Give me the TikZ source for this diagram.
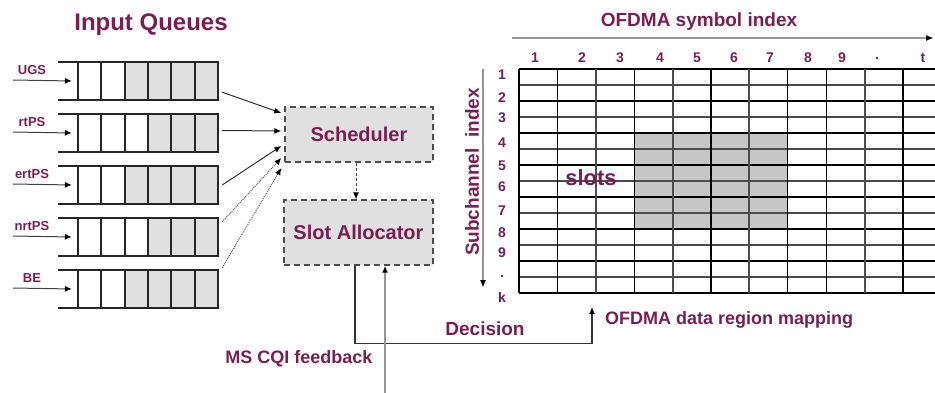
\documentclass[tikz,border=0pt]{standalone}
\usepackage{fontspec}
\setmainfont{Liberation Sans}
\usetikzlibrary{arrows.meta}
\definecolor{txt}{RGB}{122,30,82}
\definecolor{cellgray}{RGB}{224,224,224}
\definecolor{slotgray}{RGB}{198,198,198}
\definecolor{lgray}{RGB}{150,150,150}
\newcommand\fsz[1]{\fontsize{#1}{#1}\selectfont}
\begin{document}
\begin{tikzpicture}[x=1pt,y=-1pt,
  lbl/.style={text=txt,font=\bfseries\fsz{#1},inner sep=0pt},
  lbl/.default=18,
  qbox/.style={minimum width=162pt,minimum height=38pt,inner sep=0pt},
  qline/.style={line width=1.7pt,draw=black!85},
  tip/.style={-{Latex[length=7pt,width=6pt,color=black]}},
  inarr/.style={tip,line width=1pt,draw=black!75},
  sarr/.style={tip,line width=1pt,draw=black!80},
  darr/.style={tip,line width=1pt,draw=black!65,densely dotted},
  procbox/.style={draw=black!70,line width=1.4pt,dash pattern=on 6pt off 4pt,fill=cellgray,inner sep=0pt},
  gthin/.style={line width=1.3pt,draw=black},
  gthick/.style={line width=2pt,draw=black!70},
  axis/.style={line width=1.6pt,draw=lgray,-{Latex[length=8pt,width=6pt,color=black]}}
]
\useasboundingbox (0,0) rectangle (935,393);

% title
\node[lbl=24] (title) at (151,25) {Input Queues};

% queues
\foreach \nm/\qy/\g in {UGS/62/3, rtPS/114/4, ertPS/166/3, nrtPS/218/4, BE/270/3} {
  \node[qbox] (q\nm) at (139,\qy+19) {};
  \foreach \i in {\g,...,6}
    \fill[cellgray] ({78+(\i-1)*23.333},\qy) rectangle ({78+\i*23.333},\qy+38);
  \draw[qline] (58,\qy) -- (219,\qy);
  \draw[qline] (58,\qy+38) -- (219,\qy+38);
  \foreach \i in {0,...,6}
    \draw[qline] ({78+\i*23.333},\qy) -- ({78+\i*23.333},\qy+38);
  \coordinate (in\nm) at (13,\qy+18);
  \draw[inarr] (in\nm) -- ([xshift=14pt]q\nm.west);
  \node[lbl=13] (l\nm) at (32,\qy+8) {\nm};
}

% scheduler and slot allocator
\node[procbox,minimum width=148pt,minimum height=55pt] (sch) at (359,134.5)
  {\textcolor{txt}{\bfseries\fsz{20}Scheduler}};
\node[procbox,minimum width=149pt,minimum height=65pt] (slot) at (358.5,232.5)
  {\textcolor{txt}{\bfseries\fsz{20}Slot Allocator}};

% queue -> scheduler
\draw[sarr] ([shift={(2,-8)}]qUGS.south east) -- ([shift={(-3,-21.5)}]sch.west);
\draw[sarr] ([shift={(2,-2.5)}]qrtPS.east) -- ([shift={(-3,-3.5)}]sch.west);
\draw[sarr] ([shift={(2,0)}]qertPS.east) -- ([shift={(-3,11.5)}]sch.west);
\draw[darr] ([shift={(2,4)}]qnrtPS.north east) -- ([shift={(-3,23.5)}]sch.west);
\draw[darr] ([shift={(2,-2)}]qBE.north east) -- ([shift={(-3,33.5)}]sch.west);

% scheduler -> slot allocator
\draw[tip,line width=1pt,draw=black!70,densely dashed] ([xshift=-3pt]sch.south) -- ([xshift=-2.5pt]slot.north);

% grid
\fill[slotgray] (634.2,133) rectangle (787.8,229);
\foreach \j in {0,...,14} {
  \ifodd\j
    \draw[gthick] (519,{69+\j*16}) -- (935,{69+\j*16});
  \else
    \draw[gthin] (519,{69+\j*16}) -- (935,{69+\j*16});
  \fi
}
\foreach \i/\s in {0/gthin,1/gthin,2/gthick,3/gthin,4/gthick,5/gthin,6/gthick,7/gthin,8/gthin,9/gthick,10/gthin}
  \draw[\s] ({519+\i*38.4},69) -- ({519+\i*38.4},293);
\node[minimum width=416pt,minimum height=224pt,inner sep=0pt] (grid) at (727,181) {};

% column numbers
\foreach \c/\x in {1/535,2/582,3/620,4/660,5/697,6/734,7/770,8/808,9/842,./877,t/923}
  \node[lbl=14] (c\x) at (\x,58) {\c};
% row numbers
\foreach \r/\y in {1/75,2/98,3/118,4/143,5/166,6/187,7/211,8/233,9/253,./276,k/297}
  \node[lbl=14] (r\y) at (502,\y) {\r};

% axes
\coordinate (xa0) at (512,38);
\coordinate (xa1) at (934,38);
\draw[axis] (xa0) -- (xa1);
\node[lbl=19] (xlab) at (699,22) {OFDMA symbol index};
\coordinate (ya0) at (483,69);
\coordinate (ya1) at (483,288);
\draw[axis] (ya0) -- (ya1);
\node[lbl=19,rotate=90] (ylab) at (472,172) {Subchannel\ \ index};

\node[lbl=22] (slotsl) at (591,178) {slots};

% decision path
\coordinate (dec) at (592,307);
\draw[tip,line width=1.1pt,draw=black!80] ([xshift=-3.5pt]slot.south) -- ++(0,78) -| (dec);
\node[lbl=19] (declab) at (485,329) {Decision};
\node[lbl=18,anchor=west] (maplab) at (605,320) {OFDMA data region mapping};

% CQI feedback
\coordinate (cqi) at (385,393);
\draw[tip,line width=1.6pt,draw=lgray] (cqi) -- ([xshift=26.5pt]slot.south);
\node[lbl=18] (cqilab) at (299,359) {MS CQI feedback};
\end{tikzpicture}
\end{document}
